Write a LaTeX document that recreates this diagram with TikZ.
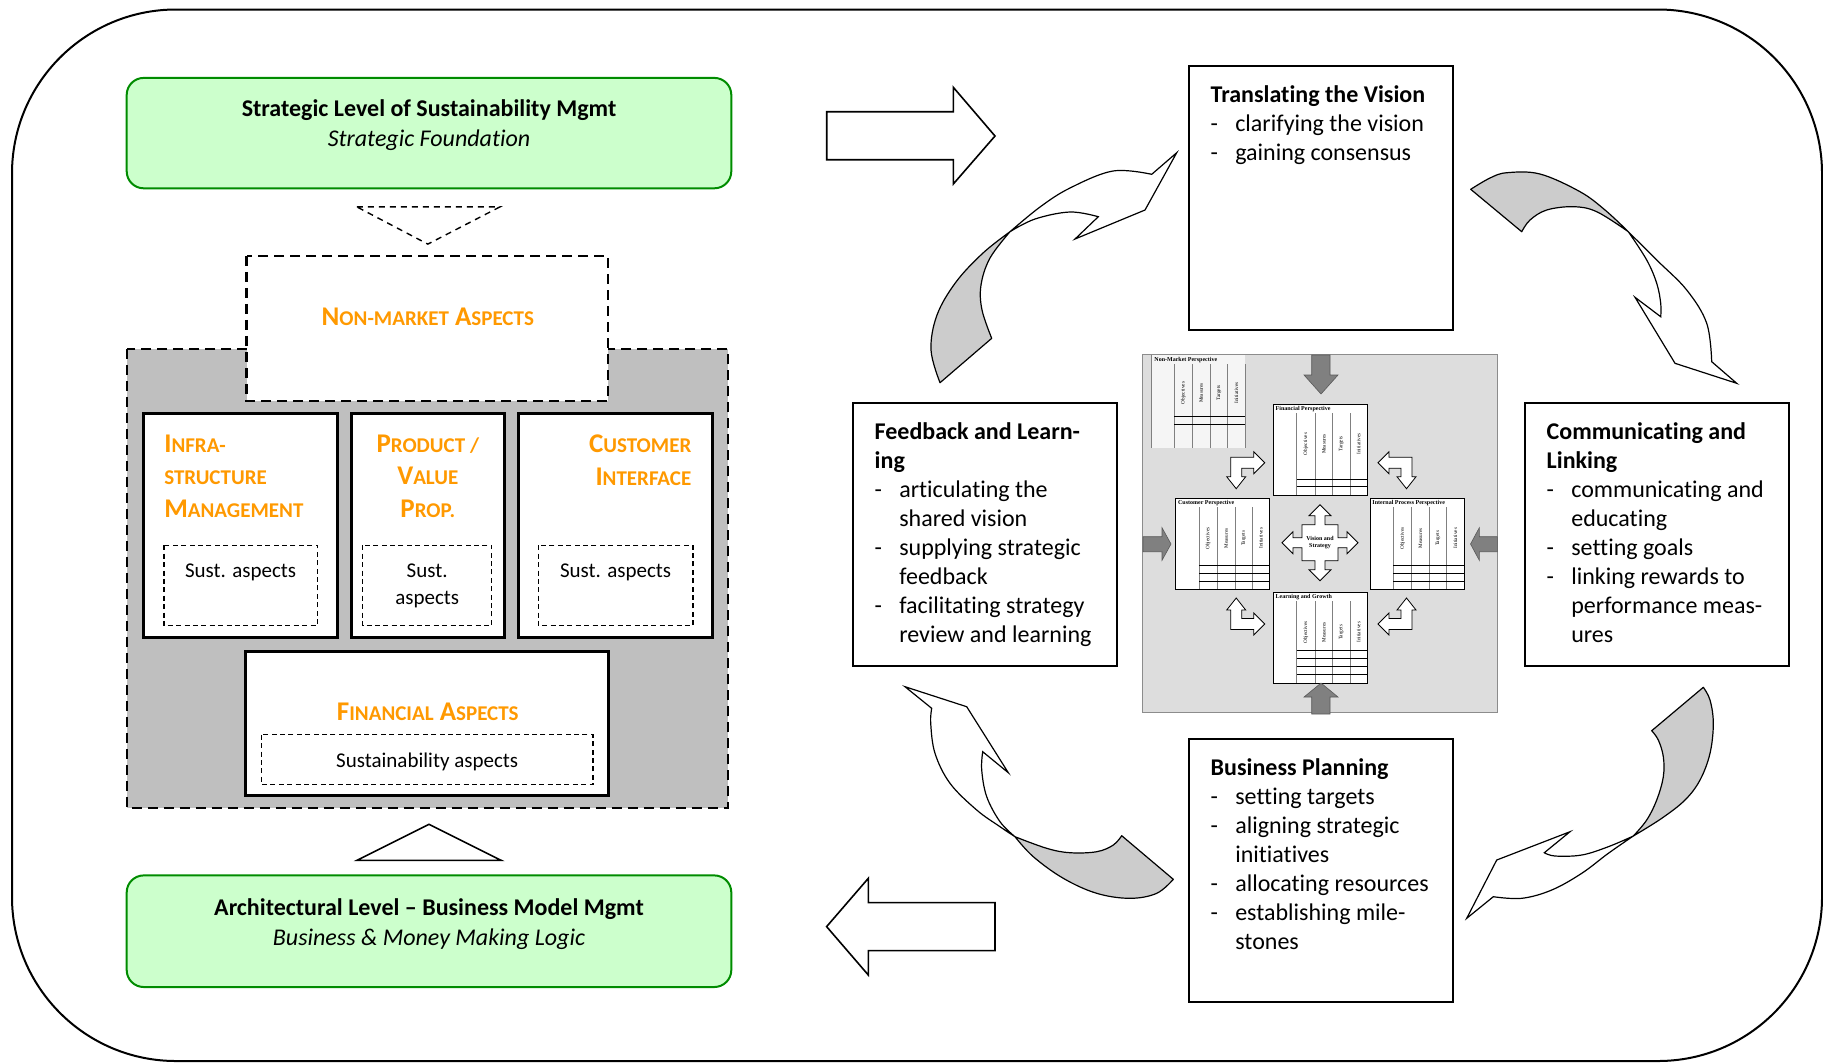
\documentclass[tikz,border=0pt]{standalone}
\usepackage{fontspec}
\setmainfont{Carlito}[Ligatures=NoCommon]
\newfontfamily\bscfont{Liberation Serif}
\usetikzlibrary{positioning}

\definecolor{greenfill}{RGB}{204,255,204}
\definecolor{greenline}{RGB}{0,140,0}
\definecolor{orangetxt}{RGB}{255,153,0}
\definecolor{grayregion}{RGB}{191,191,191}
\definecolor{bscback}{RGB}{221,221,221}
\definecolor{ribbon}{RGB}{204,204,204}
\definecolor{bscarrow}{RGB}{128,128,128}

\newcommand{\itm}[1]{\makebox[12.3pt][l]{-}#1}
\newcommand{\cnt}[1]{\hspace*{12.3pt}#1}
\newcommand{\smc}[1]{{\fontsize{10.5}{12}\selectfont #1}}

\tikzset{
  pics/persp/.style n args={2}{code={
    \draw[fill=white, line width=0.4pt] (0,0) rectangle (94,91);
    \foreach \cx in {23.4,41.7,59.4,76.7} \draw[gray, line width=0.5pt] (\cx,9) -- (\cx,91);
    \foreach \hy in {#2} \draw[line width=0.4pt] (23.4,\hy) -- (94,\hy);
    \node[anchor=north west, inner sep=0.5pt, font=\bscfont\bfseries\fontsize{3}{3.5}\selectfont] at (1,0.5) {#1};
    \foreach \lab/\cx in {Objectives/32.5, Measures/50.5, Targets/68, Initiatives/85.3}
      \node[rotate=90, inner sep=0pt, font=\bscfont\fontsize{2.6}{3}\selectfont] at (\cx,40) {\lab};
  }},
  pics/larrow/.style={code={
    \draw[fill=white, line width=0.4pt] (4,5.5) -- (27,5.5) -- (27,0) -- (38,11) -- (27,22) -- (27,16.5)
      -- (15,16.5) -- (15,25) -- (19,25) -- (9.5,37) -- (0,25) -- (4,25) -- cycle;
  }}
}

\begin{document}
\begin{tikzpicture}[x=0.5pt, y=-0.5pt,
    outerframe/.style={draw, line width=1pt, rounded corners=82pt},
    greenbox/.style={draw=greenline, fill=greenfill, line width=1pt, rounded corners=8.5pt},
    titletext/.style={align=center, inner sep=0pt, font=\fontsize{12}{15}\selectfont},
    dashedtri/.style={draw, line width=0.7pt, dash pattern=on 3pt off 2.5pt},
    dashedregion/.style={draw, line width=1.1pt, dash pattern=on 5pt off 3pt},
    aspectbox/.style={draw, fill=white, line width=1.5pt},
    sustbox/.style={draw, fill=white, line width=0.6pt, dash pattern=on 2.5pt off 1.7pt},
    orangetext/.style={text=orangetxt, inner sep=0pt, font=\fontsize{13.5}{16.3}\selectfont\bfseries},
    susttext/.style={align=center, inner sep=0pt, font=\fontsize{10.5}{13.3}\selectfont},
    stepbox/.style={draw, fill=white, line width=1pt},
    steptext/.style={anchor=north west, align=left, inner sep=0pt, font=\fontsize{12}{14.5}\selectfont},
    blockarrow/.style={draw, fill=white, line width=0.8pt, line join=miter},
    ribbonback/.style={draw, fill=ribbon, line width=0.6pt, line join=round},
    ribbonfront/.style={draw, fill=white, line width=0.6pt, line join=miter},
    bscarrowstyle/.style={draw=black!65, fill=bscarrow, line width=0.3pt}
]
    % Frame
    \fill[white] (0,0) rectangle (1823,1062);
    \useasboundingbox (0,0) rectangle (1823,1062);
    \draw[outerframe] (12,9.5) rectangle (1822,1061);

    % Business model side
    \draw[greenbox] (126.7,77.9) rectangle (731.3,188.3);
    \node[titletext, anchor=north] (strategic) at (429,99.3)
        {\textbf{Strategic Level of Sustainability Mgmt}\\\textit{Strategic Foundation}};
    \draw[dashedtri] (356.9,206.9) -- (499.9,206.9) -- (427.8,244.1) -- cycle;

    \draw[dashedregion, fill=grayregion] (126.7,348.8) rectangle (727.8,808);
    \draw[dashedregion, fill=white] (246.5,255.8) rectangle (608,401.1);
    \node[orangetext] (nonmarket) at (427.8,317) {N\smc{ON-MARKET} A\smc{SPECTS}};

    \draw[aspectbox] (143,413.9) rectangle (337.2,637.1);
    \draw[aspectbox] (351.1,413.9) rectangle (504.6,637.1);
    \draw[aspectbox] (518.5,413.9) rectangle (712.7,637.1);
    \node[orangetext, anchor=north west, align=left] (infra) at (163.9,434.3)
        {I\smc{NFRA-}\\\smc{STRUCTURE}\\M\smc{ANAGEMENT}};
    \node[orangetext, anchor=north, align=center] (product) at (427.8,434.3)
        {P\smc{RODUCT /}\\V\smc{ALUE}\\P\smc{ROP.}};
    \node[orangetext, anchor=north east, align=right] (customer) at (691.7,434.3)
        {C\smc{USTOMER}\\I\smc{NTERFACE}};

    \draw[sustbox] (163.9,545.3) rectangle (317.4,625.5);
    \draw[sustbox] (362.7,545.3) rectangle (491.8,625.5);
    \draw[sustbox] (538.3,545.3) rectangle (692.9,625.5);
    \node[susttext, anchor=north] (sustinfra) at (240.6,563.5) {Sust. aspects};
    \node[susttext, anchor=north] (sustproduct) at (427.2,563.5) {Sust.\\aspects};
    \node[susttext, anchor=north] (sustcustomer) at (615.6,563.5) {Sust. aspects};

    \draw[aspectbox] (245.3,651.1) rectangle (608,795.2);
    \node[orangetext] (financial) at (427.8,712) {F\smc{INANCIAL} A\smc{SPECTS}};
    \draw[sustbox] (261.6,734.8) rectangle (592.9,784.8);
    \node[susttext] (sustfinancial) at (427.2,762) {Sustainability aspects};

    \draw[blockarrow] (356.9,860.3) -- (501.1,860.3) -- (429,824.3) -- cycle;
    \draw[greenbox] (126.7,875.4) rectangle (731.3,987);
    \node[titletext, anchor=north] (architectural) at (429,898)
        {\textbf{Architectural Level -- Business Model Mgmt}\\\textit{Business \& Money Making Logic}};

    % Block arrows
    \draw[blockarrow] (826.7,111.7) -- (953.3,111.7) -- (953.3,87.3) -- (995,136) -- (953.3,184)
        -- (953.3,159.7) -- (826.7,159.7) -- cycle;
    \draw[blockarrow] (995,902.6) -- (868.3,902.6) -- (868.3,878.3) -- (826.6,926.6) -- (868.3,975)
        -- (868.3,950.6) -- (995,950.6) -- cycle;

    % Steps
    \draw[stepbox] (1189.3,66.3) rectangle (1453.3,330.2);
    \node[steptext] (vision) at (1210.3,85.3)
        {\textbf{Translating the Vision}\\\itm{clarifying the vision}\\\itm{gaining consensus}};
    \draw[stepbox] (1525.3,403.4) rectangle (1789.2,666.2);
    \node[steptext] (linking) at (1546.3,422.4)
        {\textbf{Communicating and}\\\textbf{Linking}\\\itm{communicating and}\\\cnt{educating}\\\itm{setting goals}\\\itm{linking rewards to}\\\cnt{performance meas-}\\\cnt{ures}};
    \draw[stepbox] (853.3,403.4) rectangle (1117.3,666.2);
    \node[steptext] (feedback) at (874.3,422.4)
        {\textbf{Feedback and Learn-}\\\textbf{ing}\\\itm{articulating the}\\\cnt{shared vision}\\\itm{supplying strategic}\\\cnt{feedback}\\\itm{facilitating strategy}\\\cnt{review and learning}};
    \draw[stepbox] (1189.3,739.4) rectangle (1453.3,1002.2);
    \node[steptext] (planning) at (1210.3,758.4)
        {\textbf{Business Planning}\\\itm{setting targets}\\\itm{aligning strategic}\\\cnt{initiatives}\\\itm{allocating resources}\\\itm{establishing mile-}\\\cnt{stones}};

    % Balanced scorecard
    \draw[fill=bscback, draw=black!45, line width=0.4pt] (1142.8,354.6) rectangle (1497.4,712.7);
    \fill[white!92!gray] (1151.7,355) rectangle (1245,448.3);
    \draw[gray, line width=0.5pt] (1151.7,355) -- (1151.7,448.3);
    \foreach \cx in {1174.3,1192.3,1210,1227.7,1245} \draw[gray, line width=0.5pt] (\cx,364) -- (\cx,448.3);
    \foreach \hy in {416.7,424.3} \draw[line width=0.4pt] (1174.3,\hy) -- (1245,\hy);
    \node[anchor=north west, inner sep=0.5pt, font=\bscfont\bfseries\fontsize{3}{3.5}\selectfont] (nonmarketbsc) at (1153,356) {Non-Market Perspective};
    \foreach \lab/\cx in {Objectives/1183.3, Measures/1201.2, Targets/1218.9, Initiatives/1236.4}
      \node[rotate=90, inner sep=0pt, font=\bscfont\fontsize{2.6}{3}\selectfont] at (\cx,393) {\lab};

    \pic at (1273.3,404) {persp={Financial Perspective}{75.3,82.7}};
    \pic at (1175.7,498.3) {persp={Customer Perspective}{67.4,75,82.7}};
    \pic at (1370,498.3) {persp={Internal Process Perspective}{67.4,75,82.7}};
    \pic at (1273.3,592.3) {persp={Learning and Growth}{58.4,66,73.7,81.7}};

    \draw[bscarrowstyle] (1311.7,355) -- (1330,355) -- (1330,375) -- (1338,375) -- (1321,394) -- (1304,375) -- (1311.7,375) -- cycle;
    \draw[bscarrowstyle] (1311.7,714) -- (1330,714) -- (1330,697) -- (1338,697) -- (1321,683) -- (1304,697) -- (1311.7,697) -- cycle;
    \draw[bscarrowstyle] (1143,536.7) -- (1162,536.7) -- (1162,527.7) -- (1171,544) -- (1162,560.3) -- (1162,551.7) -- (1143,551.7) -- cycle;
    \draw[bscarrowstyle] (1497.4,536.7) -- (1479.3,536.7) -- (1479.3,527.7) -- (1470.5,544) -- (1479.3,560.3) -- (1479.3,551.7) -- (1497.4,551.7) -- cycle;

    \pic at (1226.7,451.7) {larrow};
    \pic[xscale=-1] at (1416,451.7) {larrow};
    \pic[yscale=-1] at (1226.7,635) {larrow};
    \pic[xscale=-1, yscale=-1] at (1416,635) {larrow};

    \begin{scope}[shift={(1320,542.7)}]
      \draw[fill=white, line width=0.4pt] (18,-5) -- (27,-5) -- (27,-11) -- (38,0) -- (27,11) -- (27,5) -- (18,5)
        -- (18,18) -- (5,18) -- (5,27) -- (11,27) -- (0,38) -- (-11,27) -- (-5,27) -- (-5,18)
        -- (-18,18) -- (-18,5) -- (-27,5) -- (-27,11) -- (-38,0) -- (-27,-11) -- (-27,-5) -- (-18,-5)
        -- (-18,-18) -- (-5,-18) -- (-5,-27) -- (-11,-27) -- (0,-38) -- (11,-27) -- (5,-27) -- (5,-18)
        -- (18,-18) -- cycle;
      \node[align=center, inner sep=0pt, font=\bscfont\bfseries\fontsize{3}{3.4}\selectfont] (visionbsc) at (0,0) {Vision and\\Strategy};
    \end{scope}

    % Curved arrows
    \draw[ribbonback] plot[smooth, tension=0.6] coordinates {(940,382.7) (931,350) (937,315) (956,282) (983,253) (1010,231.7)}
        -- plot[smooth, tension=0.6] coordinates {(1010,231.7) (990,258) (981,285) (982,310) (991.7,338.3)} -- cycle;
    \draw[ribbonfront] plot[smooth, tension=0.6] coordinates {(1010,231.7) (1040,207) (1070,188) (1113,171) (1151.7,174.3)}
        -- (1176.7,152.7) -- (1145,210) -- (1075,239) -- (1098.3,216.7)
        -- plot[smooth, tension=0.6] coordinates {(1098.3,216.7) (1070,212) (1035,219) (1010,231.7)} -- cycle;

    \draw[ribbonback] plot[smooth, tension=0.6] coordinates {(1470.7,189.3) (1490,178) (1507,172.7) (1540,174) (1580,191.7) (1605,210) (1628.3,231.7)}
        -- plot[smooth, tension=0.6] coordinates {(1628.3,231.7) (1596.7,211.7) (1573.3,206.7) (1546.7,210) (1530,220) (1521.7,231.7)} -- cycle;
    \draw[ribbonfront] plot[smooth, tension=0.6] coordinates {(1628.3,231.7) (1656.7,260) (1686.7,290) (1706.7,323.3) (1711.7,361.7)}
        -- (1736.7,383.3) -- (1675,363.3) -- (1635,297.3) -- (1660.7,316.7)
        -- plot[smooth, tension=0.6] coordinates {(1660.7,316.7) (1660.7,303.3) (1656.7,283.3) (1646.7,260) (1628.3,231.7)} -- cycle;

    \draw[ribbonback] plot[smooth, tension=0.6] coordinates {(1703.3,687.3) (1710,700) (1713.3,723.3) (1710,753.3) (1700,780) (1685,800) (1661.7,818.3) (1633.3,836)}
        -- plot[smooth, tension=0.6] coordinates {(1633.3,836) (1646.7,820) (1656.7,800) (1663.3,776.7) (1663.3,756.7) (1658.3,740) (1651.7,730.7)} -- cycle;
    \draw[ribbonfront] plot[smooth, tension=0.6] coordinates {(1633.3,836) (1608.3,853.3) (1581.7,873.3) (1551.7,890) (1521.7,898.3) (1493.3,896.7)}
        -- (1466.7,918.3) -- (1496.7,860) -- (1570,831.7) -- (1544.3,852.7)
        -- plot[smooth, tension=0.6] coordinates {(1544.3,852.7) (1555,856) (1581.7,855) (1608.3,846.7) (1633.3,836)} -- cycle;

    \draw[ribbonback] plot[smooth, tension=0.6] coordinates {(1015,836.7) (1033.3,856.7) (1063.3,878.3) (1096.7,893.3) (1130,898.3) (1156.7,893.3) (1173.3,879.3)}
        -- (1121.7,835.7)
        -- plot[smooth, tension=0.6] coordinates {(1121.7,835.7) (1113.3,845) (1096.7,851.7) (1070,852.7) (1046.7,848.3) (1015,836.7)} -- cycle;
    \draw[ribbonfront] (905,686.7) -- (966.7,706.7) -- (1008.3,772.7) -- (982.7,751.7)
        -- plot[smooth, tension=0.6] coordinates {(982.7,751.7) (981.7,770) (986.7,796.7) (1000,821.7) (1015,836.7)}
        -- plot[smooth, tension=0.6] coordinates {(1015,836.7) (1000,826.7) (976.7,810) (950,783.3) (935,753.3) (930.7,723.3) (931.7,708.3)} -- cycle;
\end{tikzpicture}
\end{document}
